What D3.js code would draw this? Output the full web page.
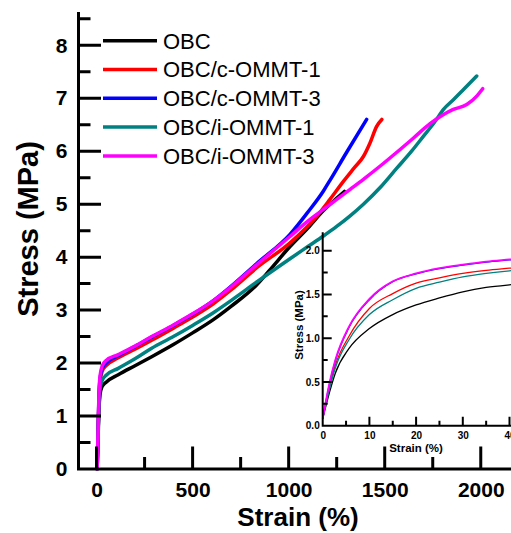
<!DOCTYPE html>
<html>
<head>
<meta charset="utf-8">
<script src="https://cdn.jsdelivr.net/npm/d3@7"></script>
<style>
  html, body { margin: 0; padding: 0; background: #fff; }
  svg { display: block; font-family: "Liberation Sans", Arial, sans-serif; }
</style>
</head>
<body>
<svg id="chart" width="511" height="533"></svg>
<script>
// ---------- data ----------
const seriesNames = ["OBC", "OBC/c-OMMT-1", "OBC/c-OMMT-3", "OBC/i-OMMT-1", "OBC/i-OMMT-3"];
const seriesColors = ["#000000", "#ff0000", "#0000ff", "#008080", "#ff00ff"];

// main curves: [strain %, stress MPa]
const obc    = [[3,0],[8,0.6],[12,1.1],[18,1.4],[28,1.55],[50,1.64],[113,1.78],[200,1.95],[287,2.12],[400,2.35],[500,2.57],[608,2.82],[700,3.07],[834,3.48],[900,3.75],[1007,4.2],[1100,4.55],[1181,4.88],[1240,5.08],[1290,5.24]];
const cOMMT1 = [[3,0],[8,0.7],[12,1.25],[18,1.65],[30,1.85],[50,1.95],[113,2.1],[200,2.26],[287,2.43],[400,2.66],[500,2.87],[608,3.12],[700,3.38],[834,3.8],[1007,4.27],[1146,4.77],[1215,5.09],[1285,5.43],[1340,5.68],[1389,5.9],[1424,6.16],[1458,6.47],[1485,6.6]];
const cOMMT3 = [[3,0],[8,0.7],[12,1.3],[18,1.7],[30,1.9],[50,2.0],[113,2.14],[200,2.31],[287,2.49],[400,2.71],[500,2.92],[608,3.18],[700,3.45],[834,3.88],[1007,4.43],[1100,4.85],[1181,5.25],[1215,5.45],[1302,5.98],[1406,6.6]];
const iOMMT1 = [[3,0],[8,0.65],[12,1.15],[18,1.5],[30,1.68],[50,1.77],[113,1.9],[200,2.08],[287,2.28],[400,2.5],[500,2.71],[608,2.95],[700,3.18],[834,3.53],[900,3.7],[1007,3.97],[1100,4.2],[1181,4.4],[1250,4.58],[1320,4.78],[1389,5.0],[1480,5.33],[1563,5.68],[1640,6.0],[1701,6.28],[1760,6.55],[1806,6.79],[1860,6.98],[1909,7.16],[1979,7.42]];
const iOMMT3 = [[3,0],[8,0.75],[12,1.35],[18,1.75],[30,1.95],[50,2.05],[113,2.16],[200,2.32],[287,2.5],[400,2.72],[500,2.93],[608,3.18],[700,3.44],[834,3.86],[1007,4.39],[1100,4.68],[1181,4.9],[1320,5.28],[1389,5.47],[1480,5.73],[1563,5.98],[1650,6.25],[1736,6.52],[1800,6.68],[1857,6.79],[1927,6.88],[1979,7.04],[2010,7.18]];
const mainSeries = [obc, cOMMT1, cOMMT3, iOMMT1, iOMMT3];

// inset curves (0-40 % strain)
const insetOBC = [[0,0.08],[1.5,0.39],[2.7,0.60],[5.6,0.88],[10,1.11],[15,1.27],[20,1.38],[25,1.46],[30,1.53],[35,1.58],[40,1.61],[41,1.615]];
const insetC1  = [[0,0.08],[1.5,0.45],[2.7,0.69],[5.6,1.02],[10,1.34],[15,1.51],[20,1.63],[25,1.69],[30,1.74],[35,1.775],[40,1.80],[41,1.805]];
const insetC3  = [[0,0.08],[1.5,0.49],[2.7,0.74],[5.6,1.12],[10,1.44],[15,1.645],[20,1.735],[25,1.795],[30,1.835],[35,1.87],[40,1.895],[41,1.90]];
const insetI1  = [[0,0.08],[1.5,0.43],[2.7,0.66],[5.6,0.98],[10,1.27],[15,1.44],[20,1.57],[25,1.64],[30,1.70],[35,1.74],[40,1.77],[41,1.775]];
const insetI3  = [[0,0.08],[1.5,0.50],[2.7,0.75],[5.6,1.13],[10,1.45],[15,1.65],[20,1.74],[25,1.80],[30,1.84],[35,1.875],[40,1.90],[41,1.905]];
const insetSeries = [insetOBC, insetC1, insetC3, insetI1, insetI3];

const xMajorTicks = [0, 500, 1000, 1500, 2000];
const xMinorTicks = [250, 750, 1250, 1750];
const yMajorTicks = [0, 1, 2, 3, 4, 5, 6, 7, 8];
const yMinorTicks = [0.5, 1.5, 2.5, 3.5, 4.5, 5.5, 6.5, 7.5, 8.5];
const insetXMajor = [0, 10, 20, 30, 40];
const insetXMinor = [5, 15, 25, 35];
const insetYMajor = [0, 0.5, 1.0, 1.5, 2.0];
const insetYMinor = [0.25, 0.75, 1.25, 1.75];

// ---------- drawing ----------
const svg = d3.select("#chart");

const x = d3.scaleLinear().domain([-94, 2160]).range([78.5, 511.5]);
const y = d3.scaleLinear().domain([0, 8.6]).range([469, 13.5]);
const line = d3.line().x(d => x(d[0])).y(d => y(d[1])).curve(d3.curveMonotoneX);

// one path per axis frame: the L-shaped axis lines plus inward ticks, all placed by the scales
function axisFrame(sx, sy, xMaj, xMin, yMaj, yMin, majLen, minLen, sw) {
  const x0 = sx.range()[0], x1 = sx.range()[1];
  const y0 = sy.range()[0], y1 = sy.range()[1];
  let d = `M${x0},${y1}L${x0},${y0}L${x1},${y0}`;
  xMaj.forEach(v => { d += `M${sx(v)},${y0}L${sx(v)},${y0 - majLen}`; });
  xMin.forEach(v => { d += `M${sx(v)},${y0}L${sx(v)},${y0 - minLen}`; });
  yMaj.forEach(v => { d += `M${x0},${sy(v)}L${x0 + majLen},${sy(v)}`; });
  yMin.forEach(v => { d += `M${x0},${sy(v)}L${x0 + minLen},${sy(v)}`; });
  svg.append("path").attr("d", d).attr("fill", "none")
    .attr("stroke", "#000").attr("stroke-width", sw).attr("stroke-linecap", "square");
}

function labels(g, size) {
  g.select(".domain").remove();
  g.selectAll(".tick line").remove();
  g.selectAll(".tick text").attr("fill", "#000").attr("font-size", size).attr("font-weight", "bold");
}

// axis titles
svg.append("text").attr("x", 298).attr("y", 526).attr("text-anchor", "middle")
  .attr("font-size", 26).attr("font-weight", "bold").text("Strain (%)");
svg.append("text").attr("transform", "translate(28,229) rotate(-90)").attr("text-anchor", "middle")
  .attr("dy", "0.35em").attr("font-size", 29).attr("font-weight", "bold").text("Stress (MPa)");

// main curves
mainSeries.forEach((s, i) => {
  svg.append("path").datum(s).attr("d", line).attr("fill", "none")
    .attr("stroke", seriesColors[i]).attr("stroke-width", 3.5)
    .attr("stroke-linejoin", "round").attr("stroke-linecap", "round");
});

// main axes
axisFrame(x, y, xMajorTicks, xMinorTicks, yMajorTicks, yMinorTicks, 21, 10.5, 3);
labels(svg.append("g").attr("transform", "translate(0,469)")
  .call(d3.axisBottom(x).tickValues(xMajorTicks).tickSize(0).tickPadding(13).tickFormat(d3.format("d"))), 21);
labels(svg.append("g").attr("transform", "translate(78.5,0)")
  .call(d3.axisLeft(y).tickValues(yMajorTicks).tickSize(0).tickPadding(11).tickFormat(d3.format("d"))), 21);

// legend
const legendY = [40.7, 69.5, 98.3, 127.1, 155.9];
seriesNames.forEach((name, i) => {
  svg.append("line").attr("x1", 103).attr("x2", 157).attr("y1", legendY[i]).attr("y2", legendY[i])
    .attr("stroke", seriesColors[i]).attr("stroke-width", 3.5);
  svg.append("text").attr("x", 163).attr("y", legendY[i]).attr("dy", "0.36em")
    .attr("font-size", 22).attr("fill", "#000").text(name);
});

// ---------- inset ----------
const ix = d3.scaleLinear().domain([0, 41]).range([322.7, 322.7 + 41 * 4.67]);
const iy = d3.scaleLinear().domain([0, 2.2]).range([425.7, 425.7 - 2.2 * 87.5]);
const iline = d3.line().x(d => ix(d[0])).y(d => iy(d[1])).curve(d3.curveMonotoneX);

insetSeries.forEach((s, i) => {
  svg.append("path").datum(s).attr("d", iline).attr("fill", "none")
    .attr("stroke", seriesColors[i]).attr("stroke-width", i === 4 ? 1.8 : 1.3);
});

axisFrame(ix, iy, insetXMajor, insetXMinor, insetYMajor, insetYMinor, 8, 4, 2);
labels(svg.append("g").attr("transform", "translate(0,425.7)")
  .call(d3.axisBottom(ix).tickValues(insetXMajor).tickSize(0).tickPadding(6).tickFormat(d3.format("d"))), 10);
labels(svg.append("g").attr("transform", "translate(322.7,0)")
  .call(d3.axisLeft(iy).tickValues(insetYMajor).tickSize(0).tickPadding(3).tickFormat(d3.format(".1f"))), 10);

svg.append("text").attr("x", 416).attr("y", 451.5).attr("text-anchor", "middle")
  .attr("font-size", 11.5).attr("font-weight", "bold").text("Strain (%)");
svg.append("text").attr("transform", "translate(298.5,325) rotate(-90)").attr("text-anchor", "middle")
  .attr("dy", "0.35em").attr("font-size", 11.5).attr("font-weight", "bold").text("Stress (MPa)");
</script>
</body>
</html>
